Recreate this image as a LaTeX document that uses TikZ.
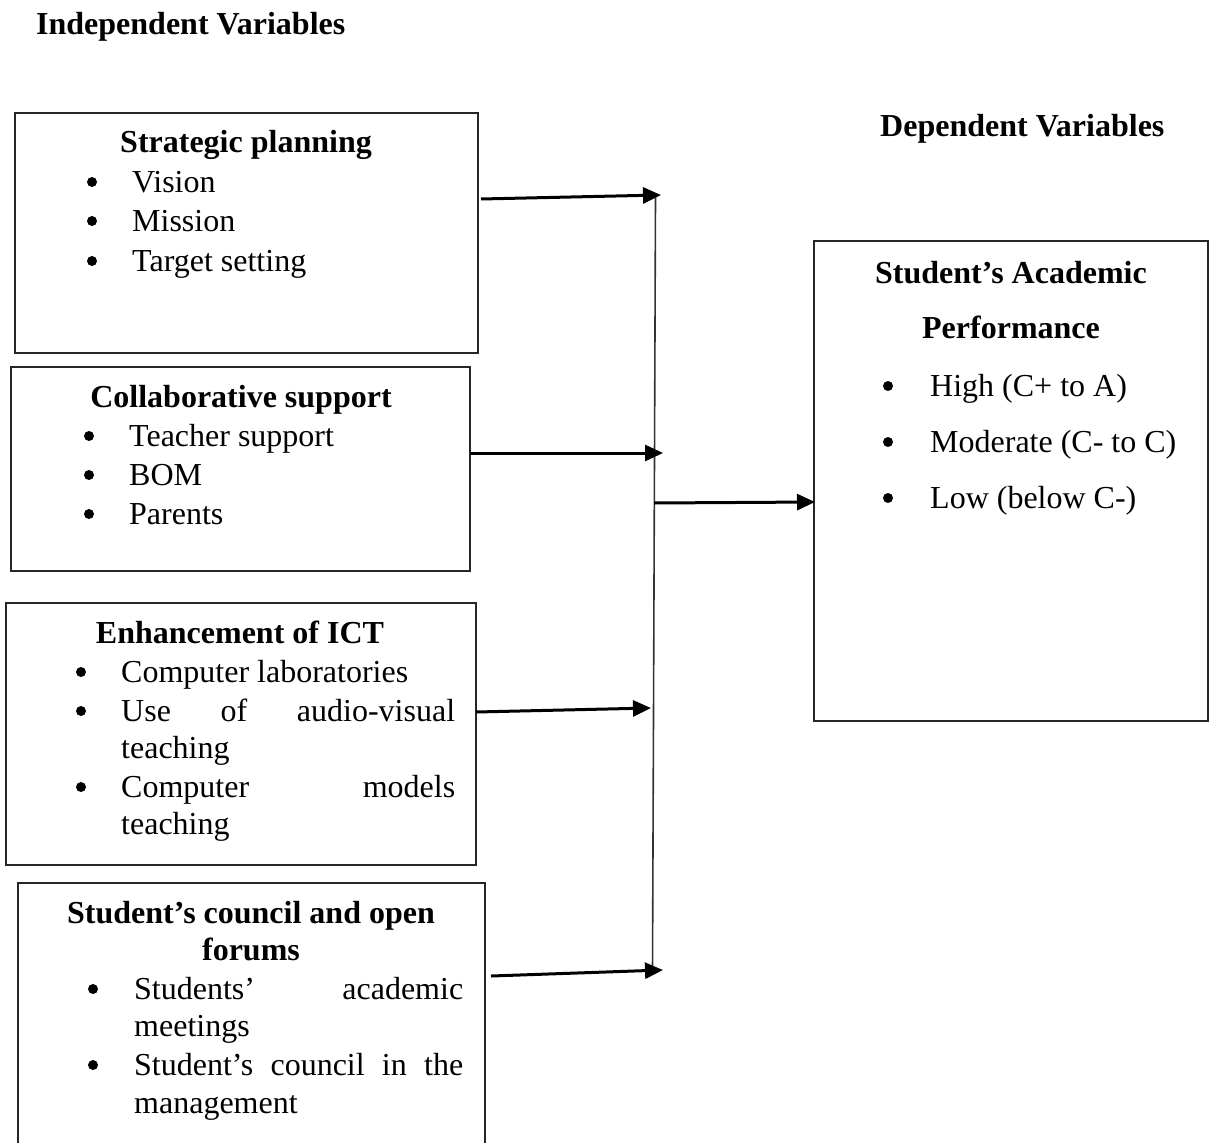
\documentclass[tikz,border=0pt]{standalone}
\usepackage{fontspec}
\setmainfont{Liberation Serif}
\usetikzlibrary{arrows.meta}
\begin{document}
\begin{tikzpicture}[x=1pt,y=-1pt,
  txt/.style={inner sep=0pt, anchor=base west, font=\fontsize{32}{38}\selectfont},
  ttl/.style={inner sep=0pt, anchor=base, font=\fontsize{32}{38}\selectfont\bfseries},
  dot/.style={circle, fill=black, inner sep=0pt, minimum size=10pt},
  box/.style={draw=black!85, line width=1.3pt},
  arr/.style={line width=3pt, -{Triangle[length=18pt,width=16pt]}},
  vline/.style={draw=black!80, line width=1.6pt}]
\useasboundingbox (0,0) rectangle (1214,1142);
% headers
\node[ttl, anchor=base west] (hind) at (36,35) {Independent Variables};
\node[ttl, anchor=base west] (hdep) at (880,137) {Dependent Variables};
% boxes
\draw[box] (15,113) rectangle (478,353);
\draw[box] (11,367) rectangle (470,571);
\draw[box] (6,603) rectangle (476,865);
\draw[box] (18,1160) -- (18,883) -- (485,883) -- (485,1160);
\draw[box] (814,241) rectangle (1208,721);
% box 1
\node[ttl] (t1) at (246,153) {Strategic planning};
\node[dot] at (92,182) {}; \node[txt] (i11) at (132,192) {Vision};
\node[dot] at (92,221) {}; \node[txt] (i12) at (132,231) {Mission};
\node[dot] at (92,261) {}; \node[txt] (i13) at (132,271) {Target setting};
% box 2
\node[ttl] (t2) at (241,407) {Collaborative support};
\node[dot] at (89,436) {}; \node[txt] (i21) at (129,446) {Teacher support};
\node[dot] at (89,475) {}; \node[txt] (i22) at (129,485) {BOM};
\node[dot] at (89,514) {}; \node[txt] (i23) at (129,524) {Parents};
% box 3
\node[ttl] (t3) at (240,643) {Enhancement of ICT};
\node[dot] at (81,672) {}; \node[txt] (i31) at (121,682) {Computer laboratories};
\node[dot] at (81,711) {}; \node[txt] (i32) at (121,721) {\makebox[334pt][s]{Use of audio-visual}};
\node[txt] (i32b) at (121,758) {teaching};
\node[dot] at (81,787) {}; \node[txt] (i33) at (121,797) {\makebox[334pt][s]{Computer models}};
\node[txt] (i33b) at (121,834) {teaching};
% box 4
\node[ttl] (t4a) at (251,923) {Student’s council and open};
\node[ttl] (t4b) at (251,960) {forums};
\node[dot] at (93,989) {}; \node[txt] (i41) at (134,999) {\makebox[329pt][s]{Students’ academic}};
\node[txt] (i41b) at (134,1036) {meetings};
\node[dot] at (93,1065) {}; \node[txt] (i42) at (134,1075) {\makebox[329pt][s]{Student’s council in the}};
\node[txt] (i42b) at (134,1113) {management};
% right box
\node[ttl] (t5a) at (1011,283) {Student’s Academic};
\node[ttl] (t5b) at (1011,338) {Performance};
\node[dot] at (888,386) {}; \node[txt] (i51) at (930,396) {High (C+ to A)};
\node[dot] at (888,442) {}; \node[txt] (i52) at (930,452) {Moderate (C- to C)};
\node[dot] at (888,498) {}; \node[txt] (i53) at (930,508) {Low (below C-)};
% connectors
\coordinate (vtop) at (655.5,197);
\coordinate (vbot) at (652.5,972);
\draw[vline] (vtop) -- (vbot);
\coordinate (s1) at (481,199); \coordinate (e1) at (661,195);
\coordinate (s2) at (470,453); \coordinate (e2) at (663,453);
\coordinate (s3) at (476,712); \coordinate (e3) at (651,708);
\coordinate (s4) at (491,976); \coordinate (e4) at (663,970);
\coordinate (s5) at (654,503); \coordinate (e5) at (815,502);
\draw[arr] (s1) -- (e1);
\draw[arr] (s2) -- (e2);
\draw[arr] (s3) -- (e3);
\draw[arr] (s4) -- (e4);
\draw[arr] (s5) -- (e5);
\end{tikzpicture}
\end{document}
